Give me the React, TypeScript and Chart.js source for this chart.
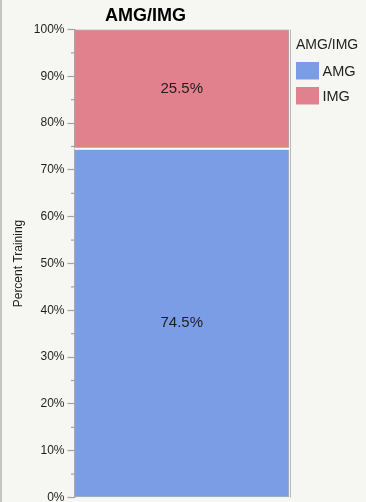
import React, { useEffect, useRef } from "react";
import { Chart, registerables } from "chart.js";

Chart.register(...registerables);

// ---- data ----
const categories = ["AMG/IMG"];
const seriesNames = ["AMG", "IMG"];
const amgValues = [74.5];
const imgValues = [25.5];
const chartTitle = "AMG/IMG";
const legendTitle = "AMG/IMG";
const yAxisTitle = "Percent Training";
const yMin = 0;
const yMax = 100;
const majorStep = 10;
const minorStep = 5;

// ---- styles ----
const FONT = "'Liberation Sans', Arial, Helvetica, sans-serif";
const BG = "#f6f6f2";
const AXIS_GREY = "#a3a3a3";
const TEXT = "#1e1e1e";
const BLUE = "#7b9de6";
const PINK = "#e0818d";
const W = 366;
const H = 512;

const decorPlugin = {
  id: "decor",
  beforeDraw(chart: any) {
    const { ctx } = chart;
    ctx.save();
    ctx.fillStyle = BG;
    ctx.fillRect(0, 0, chart.width, chart.height);
    ctx.fillStyle = "#c4c4c4";
    ctx.fillRect(0, 0, 2, chart.height);
    ctx.restore();
  },
  afterDatasetsDraw(chart: any) {
    const { ctx, chartArea } = chart;
    const yScale = chart.scales.y;
    ctx.save();

    // white separator between stacked segments + value labels
    const metas = chart.data.datasets.map((_: any, i: number) => chart.getDatasetMeta(i));
    let cumulative = 0;
    metas.forEach((meta: any, di: number) => {
      meta.data.forEach((el: any, idx: number) => {
        const v = chart.data.datasets[di].data[idx] as number;
        const left = el.x - el.width / 2;
        const right = el.x + el.width / 2;
        if (di > 0) {
          const sy = yScale.getPixelForValue(cumulative);
          ctx.strokeStyle = "#ffffff";
          ctx.lineWidth = 2;
          ctx.beginPath();
          ctx.moveTo(left, sy);
          ctx.lineTo(right, sy);
          ctx.stroke();
        }
        const cy = (el.y + el.base) / 2;
        ctx.fillStyle = TEXT;
        ctx.font = `15px ${FONT}`;
        ctx.textAlign = "center";
        ctx.textBaseline = "middle";
        ctx.fillText(v.toFixed(1) + "%", el.x, cy);
      });
      cumulative += chart.data.datasets[di].data[0] as number;
    });

    // plot frame (right and bottom)
    ctx.strokeStyle = "#b8b8b8";
    ctx.lineWidth = 1;
    ctx.beginPath();
    ctx.moveTo(chartArea.right + 1.5, chartArea.top);
    ctx.lineTo(chartArea.right + 1.5, chartArea.bottom);
    ctx.stroke();

    // minor ticks
    ctx.strokeStyle = AXIS_GREY;
    ctx.lineWidth = 1.2;
    for (let v = yMin; v <= yMax; v += minorStep) {
      if (v % majorStep === 0) continue;
      const y = yScale.getPixelForValue(v);
      ctx.beginPath();
      ctx.moveTo(chartArea.left - 3.5, y);
      ctx.lineTo(chartArea.left, y);
      ctx.stroke();
    }

    // chart title
    ctx.fillStyle = "#000";
    ctx.font = `bold 18px ${FONT}`;
    ctx.textAlign = "center";
    ctx.textBaseline = "middle";
    ctx.fillText(chartTitle, 145.5, 16.5);

    // legend
    const lx = chartArea.right + 7;
    ctx.textAlign = "left";
    ctx.font = `14px ${FONT}`;
    ctx.fillStyle = TEXT;
    ctx.fillText(legendTitle, lx, 45.5);
    chart.data.datasets.forEach((ds: any, i: number) => {
      const by = 62 + i * 25;
      ctx.fillStyle = ds.backgroundColor;
      ctx.fillRect(lx, by, 23, 17.5);
      ctx.fillStyle = TEXT;
      ctx.font = `14.5px ${FONT}`;
      ctx.fillText(ds.label, lx + 26.5, by + 9.5);
    });

    ctx.restore();
  },
};

export default function App() {
  const canvasRef = useRef<HTMLCanvasElement | null>(null);

  useEffect(() => {
    document.body.style.margin = "0";
    const canvas = canvasRef.current;
    if (!canvas) return;
    const chart = new Chart(canvas, {
      type: "bar",
      data: {
        labels: categories,
        datasets: [
          {
            label: seriesNames[0],
            data: amgValues,
            backgroundColor: BLUE,
            borderColor: "#a9b0bd",
            borderWidth: 1,
            borderSkipped: false,
            barPercentage: 1,
            categoryPercentage: 1,
          },
          {
            label: seriesNames[1],
            data: imgValues,
            backgroundColor: PINK,
            borderColor: "#b3a3a6",
            borderWidth: 1,
            borderSkipped: false,
            barPercentage: 1,
            categoryPercentage: 1,
          },
        ],
      },
      options: {
        responsive: false,
        animation: false,
        devicePixelRatio: 1,
        layout: {
          padding: { left: 8, right: W - 289, top: 29.5, bottom: H - 497.5 },
        },
        plugins: {
          legend: { display: false },
          title: { display: false },
          tooltip: { enabled: false },
        },
        scales: {
          x: { stacked: true, display: false },
          y: {
            stacked: true,
            min: yMin,
            max: yMax,
            position: "left",
            afterFit: (s: any) => {
              s.width = 66.5;
            },
            border: { display: true, color: AXIS_GREY, width: 1.5 },
            grid: {
              drawOnChartArea: false,
              drawTicks: true,
              tickLength: 7,
              tickWidth: 1.2,
              tickColor: (c: any) =>
                c.tick && c.tick.value % majorStep === 0 ? AXIS_GREY : "rgba(0,0,0,0)",
            },
            ticks: {
              stepSize: minorStep,
              autoSkip: false,
              padding: 3,
              color: TEXT,
              font: { family: FONT, size: 12 },
              callback: (v: any) => (Number(v) % majorStep === 0 ? `${v}%` : ""),
            },
            title: {
              display: true,
              text: yAxisTitle,
              color: TEXT,
              font: { family: FONT, size: 12 },
              padding: { top: 3, bottom: 0 },
            },
          },
        },
      },
      plugins: [decorPlugin],
    } as any);
    return () => chart.destroy();
  }, []);

  return (
    <div style={{ width: W, height: H, background: BG }}>
      <canvas ref={canvasRef} width={W} height={H} style={{ display: "block", width: W, height: H }} />
    </div>
  );
}
